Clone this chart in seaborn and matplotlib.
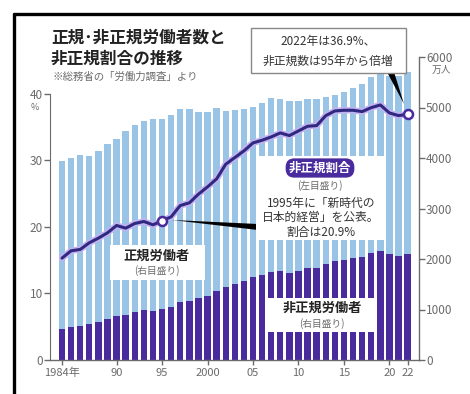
import matplotlib
matplotlib.use("Agg")
import matplotlib.pyplot as plt
import matplotlib.patheffects as pe
from matplotlib.patches import Polygon, Rectangle
from matplotlib.lines import Line2D
import seaborn as sns

# ---------------- data ----------------
years = list(range(1984, 2023))
regular = [3333, 3343, 3383, 3337, 3377, 3452, 3488, 3639, 3705, 3756,
           3805, 3779, 3800, 3812, 3794, 3688, 3630, 3640, 3489, 3444,
           3410, 3375, 3415, 3449, 3410, 3395, 3374, 3352, 3345, 3302,
           3288, 3317, 3367, 3423, 3485, 3503, 3539, 3565, 3597]
nonregular = [604, 655, 673, 711, 755, 817, 881, 897, 958, 986,
              971, 1001, 1043, 1152, 1173, 1225, 1273, 1360, 1451, 1504,
              1564, 1634, 1678, 1735, 1765, 1727, 1763, 1812, 1816, 1910,
              1967, 1986, 2023, 2036, 2120, 2165, 2090, 2064, 2101]
ratio = [15.3, 16.4, 16.6, 17.6, 18.3, 19.1, 20.2, 19.8, 20.5, 20.8,
         20.3, 20.9, 21.5, 23.2, 23.6, 24.9, 26.0, 27.2, 29.4, 30.4,
         31.4, 32.6, 33.0, 33.5, 34.1, 33.7, 34.4, 35.1, 35.2, 36.7,
         37.4, 37.5, 37.5, 37.3, 37.9, 38.3, 37.1, 36.7, 36.9]
xtick_years = [1984, 1990, 1995, 2000, 2005, 2010, 2015, 2020, 2022]
xtick_labels = ["1984年", "90", "95", "2000", "05", "10", "15", "20", "22"]
left_ticks = [0, 10, 20, 30, 40]
right_ticks = [0, 1000, 2000, 3000, 4000, 5000, 6000]
marked_years = [1995, 2022]

# ---------------- style ----------------
sns.set_style("white")
plt.rcParams['font.family'] = ['Noto Sans CJK JP', 'DejaVu Sans']

LIGHT = "#99c4e6"
DARK = "#4a2b9d"
LINE = "#2f2a80"
HALO = "#c4b2f2"
GRAY = "#6b6b6b"

W, H = 470, 394
fig = plt.figure(figsize=(W / 100, H / 100), dpi=100)
fig.patch.set_facecolor("white")


def F(x, y):
    return (x / W, 1 - y / H)


XL = (1982.68, 2023.25)
ax = fig.add_axes([50 / W, (H - 360) / H, 369 / W, 303 / H])
ax2 = ax.twinx()

totals = [r + n for r, n in zip(regular, nonregular)]
sns.barplot(x=years, y=totals, color=LIGHT, native_scale=True, width=0.7,
            saturation=1, linewidth=0, errorbar=None, ax=ax)
sns.barplot(x=years, y=nonregular, color=DARK, native_scale=True, width=0.7,
            saturation=1, linewidth=0, errorbar=None, ax=ax)
ax.set_xlim(*XL)
ax.set_ylim(0, 6000)
ax.set_xlabel("")
ax.set_ylabel("")
for s in ["top", "left"]:
    ax.spines[s].set_visible(False)
ax.spines["right"].set_visible(True)
ax.spines["right"].set_bounds(0, 6000)
ax.spines["right"].set_color(GRAY)
ax.spines["bottom"].set_color(GRAY)
ax.spines["right"].set_linewidth(1.0)
ax.spines["bottom"].set_linewidth(1.0)
ax.yaxis.set_ticks_position("right")
ax.yaxis.set_label_position("right")
ax.set_yticks(right_ticks)
ax.set_yticklabels([str(t) for t in right_ticks])
ax.tick_params(axis="y", right=True, left=False, labelright=True, labelleft=False,
               direction="out", length=4, width=1, color=GRAY, labelcolor=GRAY,
               labelsize=8.5, pad=1)
ax.set_xticks(xtick_years)
ax.set_xticklabels(xtick_labels)
ax.tick_params(axis="x", bottom=True, direction="inout", length=7, width=1,
               color=GRAY, labelcolor=GRAY, labelsize=8, pad=2)

sns.lineplot(x=years, y=ratio, ax=ax2, color=LINE, linewidth=2.2,
             path_effects=[pe.Stroke(linewidth=4.6, foreground=HALO), pe.Normal()])
mk_vals = [ratio[years.index(y)] for y in marked_years]
ax2.scatter(marked_years, mk_vals, s=42, facecolor="white", edgecolor=DARK,
            linewidth=1.8, zorder=6)
ax2.set_ylim(0, 45.5)
ax2.set_xlim(*XL)
ax2.set_ylabel("")
ax2.set_xlabel("")
ax2.yaxis.set_ticks_position("left")
ax2.yaxis.set_label_position("left")
for s in ["top", "right", "bottom"]:
    ax2.spines[s].set_visible(False)
ax2.spines["left"].set_visible(True)
ax2.spines["left"].set_bounds(0, 40)
ax2.spines["left"].set_color(GRAY)
ax2.set_yticks(left_ticks)
ax2.set_yticklabels([str(t) for t in left_ticks])
ax2.tick_params(axis="y", left=True, right=False, labelleft=True, labelright=False,
                direction="out", length=4, width=1, color=GRAY, labelcolor=GRAY,
                labelsize=8.5, pad=1)
ax2.tick_params(axis="x", bottom=False, top=False, labelbottom=False, labeltop=False)

# unit labels
fig.text(*F(35, 107), "%", fontsize=6.5, color=GRAY, ha="center", va="center")
fig.text(*F(441, 70), "万人", fontsize=7, color=GRAY, ha="center", va="center")

# title
fig.text(*F(51, 38), "正規･非正規労働者数と", fontsize=12, fontweight="bold",
         color="#222222", ha="left", va="center")
fig.text(*F(51, 59), "非正規割合の推移", fontsize=12, fontweight="bold",
         color="#222222", ha="left", va="center")
fig.text(*F(52, 77), "※総務省の「労働力調査」より", fontsize=7.5, color=GRAY,
         ha="left", va="center")

# frame lines
fig.add_artist(Line2D([14 / W, 1], [1 - 14 / H, 1 - 14 / H], color="black",
                      lw=2.4, transform=fig.transFigure))
fig.add_artist(Line2D([14 / W, 14 / W], [0, 1 - 14 / H], color="black",
                      lw=2.4, transform=fig.transFigure))

# top-right annotation box
fig.add_artist(Polygon([F(387, 72), F(394, 72), F(404, 104)], closed=True,
                       facecolor="black", edgecolor="none",
                       transform=fig.transFigure, zorder=4))
fig.add_artist(Rectangle(F(251, 73), 155 / W, 45 / H, facecolor="white",
                         edgecolor="#888888", lw=1.0, transform=fig.transFigure, zorder=5))
fig.text(*F(328, 42), "2022年は36.9%、", fontsize=8.5, color="#333333",
         ha="center", va="center", zorder=6)
fig.text(*F(328, 61), "非正規数は95年から倍増", fontsize=8.5, color="#333333",
         ha="center", va="center", zorder=6)

# 非正規割合 box
fig.add_artist(Polygon([F(172, 220), F(258, 224), F(258, 230)], closed=True,
                       facecolor="black", edgecolor="none",
                       transform=fig.transFigure, zorder=4))
fig.add_artist(Rectangle(F(256, 240), 128 / W, 84 / H, facecolor="white",
                         edgecolor="none", transform=fig.transFigure, zorder=5))
fig.text(*F(320, 168), "非正規割合", fontsize=9, color="white", fontweight="bold",
         ha="center", va="center", zorder=7,
         bbox=dict(boxstyle="round,pad=0.25,rounding_size=0.7", facecolor=DARK,
                   edgecolor="none"))
fig.text(*F(320, 186), "(左目盛り)", fontsize=7, color=GRAY,
         ha="center", va="center", zorder=7)
fig.text(*F(321, 203), "1995年に「新時代の", fontsize=8.5, color="#333333",
         ha="center", va="center", zorder=7)
fig.text(*F(321, 217), "日本的経営」を公表。", fontsize=8.5, color="#333333",
         ha="center", va="center", zorder=7)
fig.text(*F(321, 232), "割合は20.9%", fontsize=8.5, color="#333333",
         ha="center", va="center", zorder=7)

# 正規労働者 box
fig.add_artist(Rectangle(F(110, 280), 95 / W, 35 / H, facecolor="white",
                         edgecolor="none", transform=fig.transFigure, zorder=5))
fig.text(*F(157, 256), "正規労働者", fontsize=9.5, color="#222222", fontweight="bold",
         ha="center", va="center", zorder=7)
fig.text(*F(157, 271), "(右目盛り)", fontsize=7, color=GRAY,
         ha="center", va="center", zorder=7)

# 非正規労働者 box
fig.add_artist(Rectangle(F(268, 332), 107 / W, 34 / H, facecolor="white",
                         edgecolor="none", transform=fig.transFigure, zorder=5))
fig.text(*F(322, 308), "非正規労働者", fontsize=9.5, color="#222222", fontweight="bold",
         ha="center", va="center", zorder=7)
fig.text(*F(322, 324), "(右目盛り)", fontsize=7, color=GRAY,
         ha="center", va="center", zorder=7)

fig.savefig("out.png", dpi=100, facecolor="white")
